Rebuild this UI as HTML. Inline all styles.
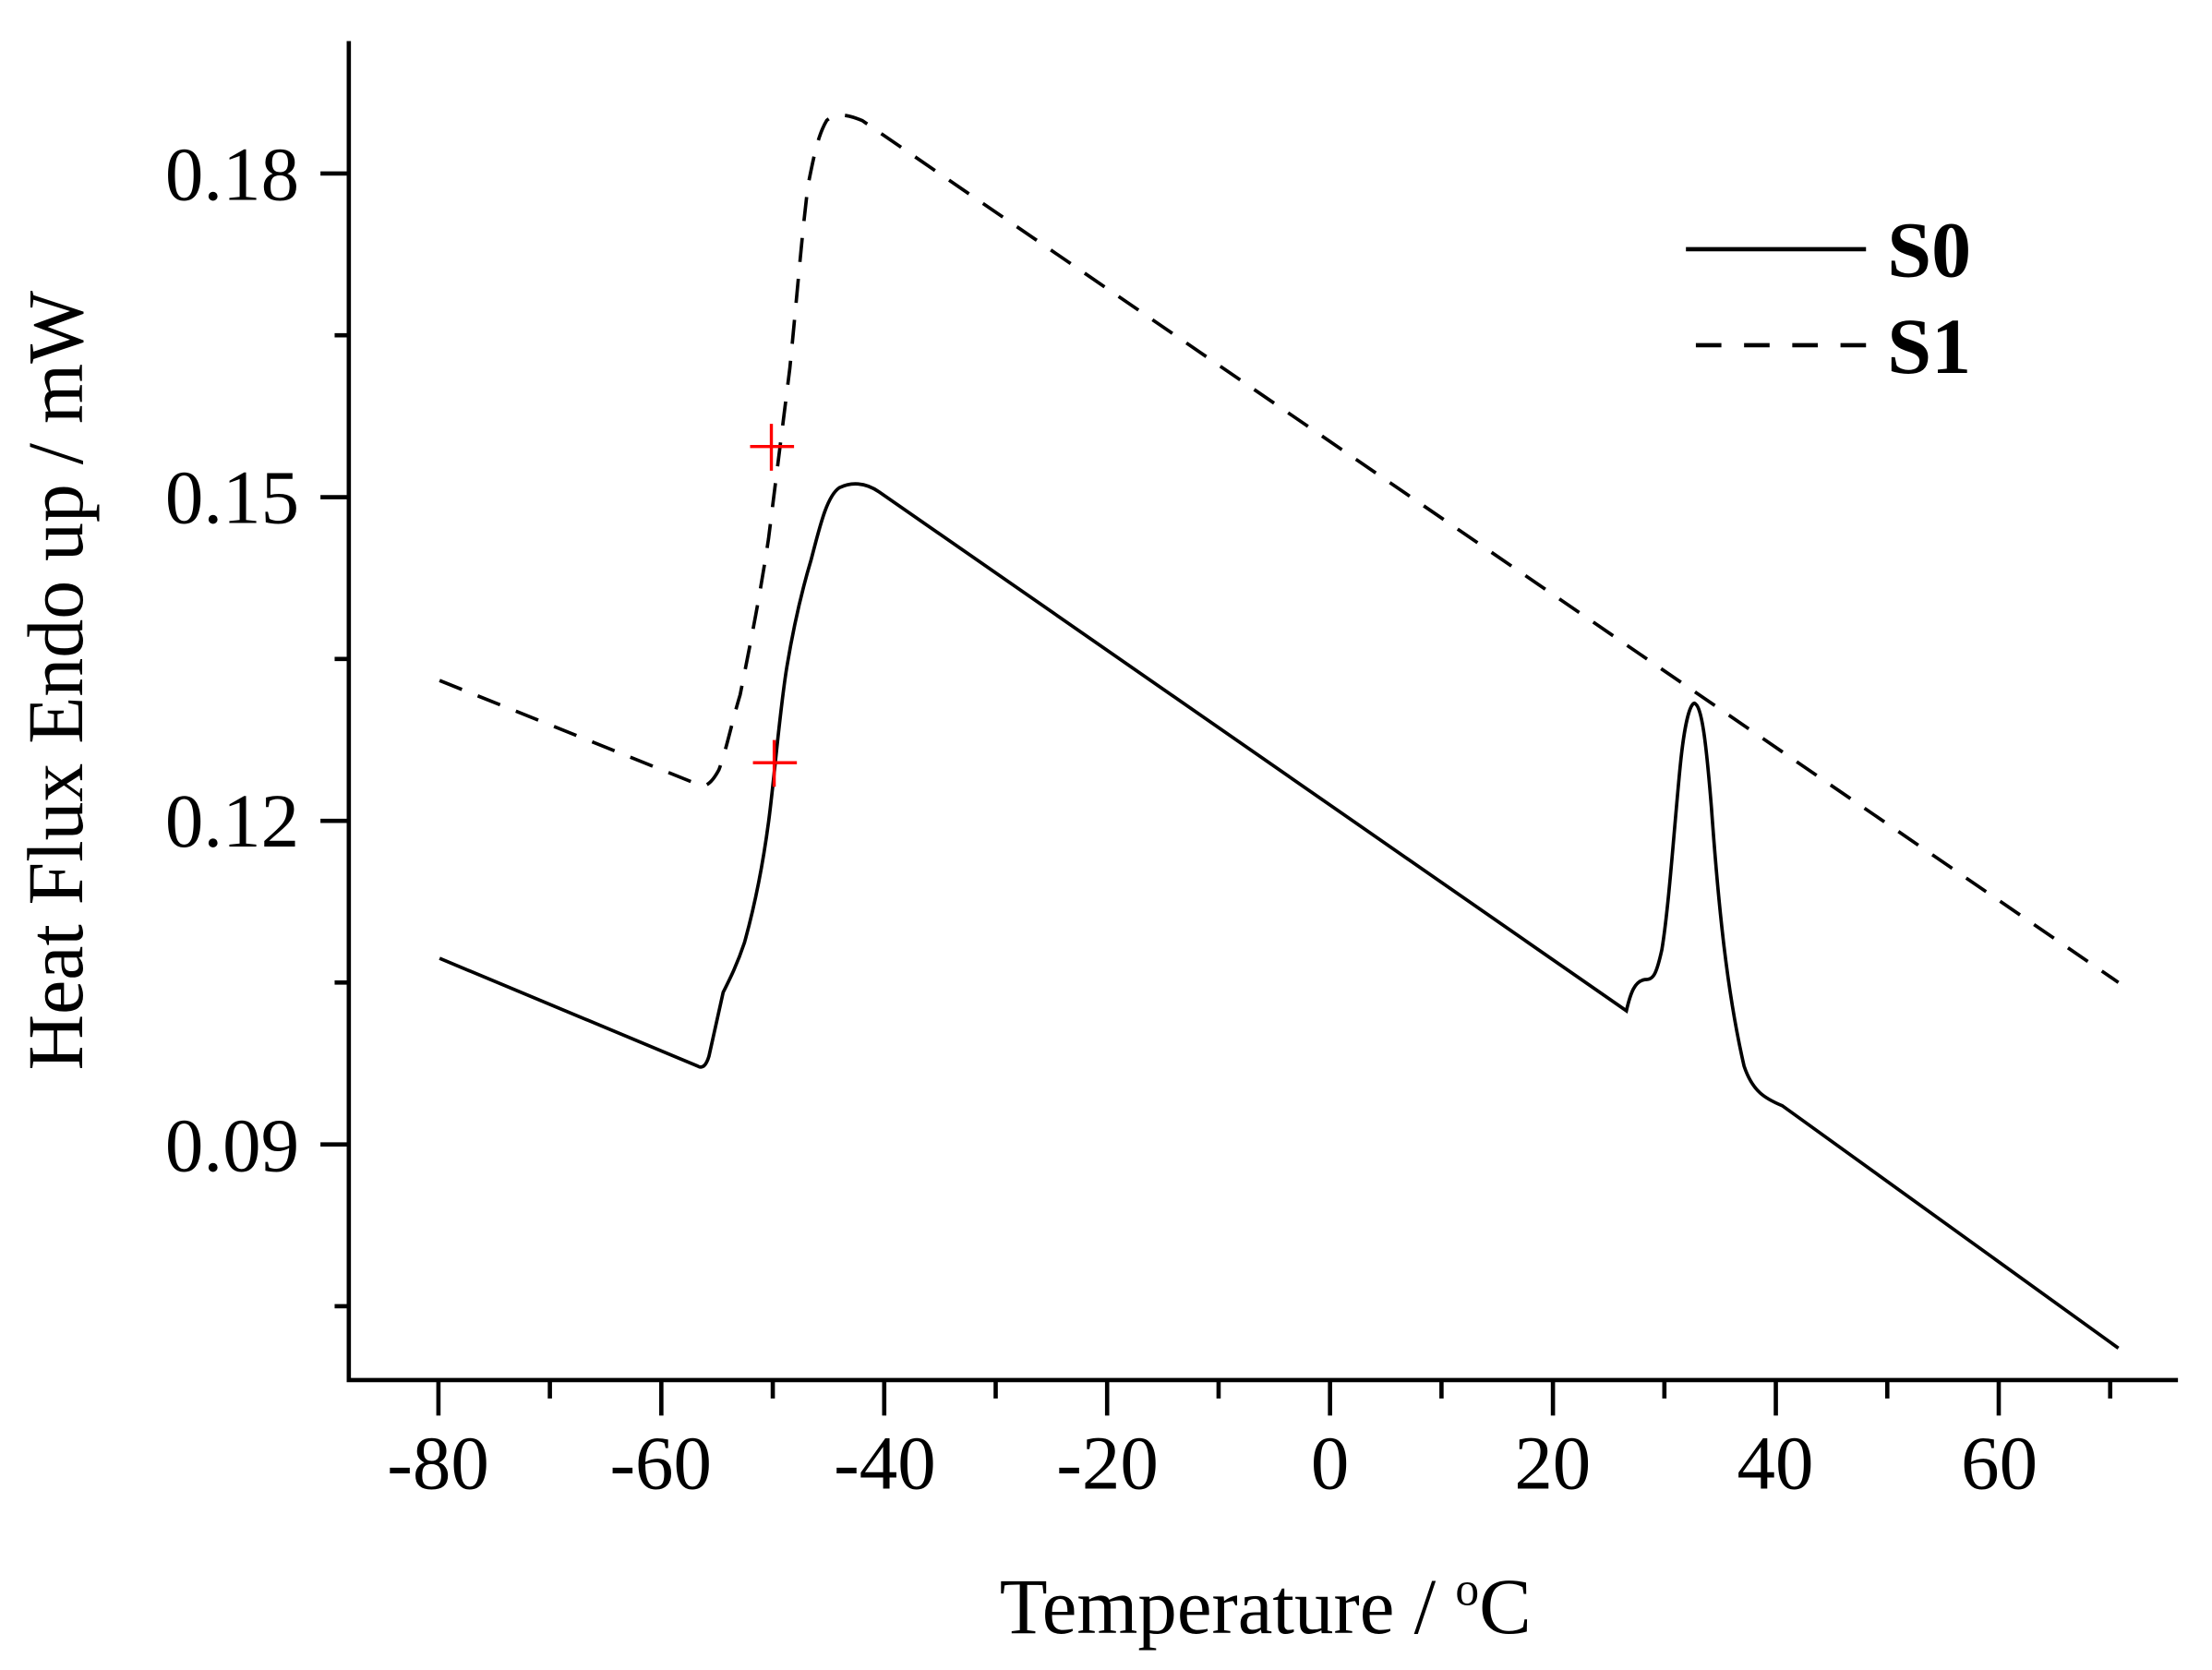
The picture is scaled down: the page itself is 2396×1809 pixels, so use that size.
<!DOCTYPE html>
<html><head><meta charset="utf-8"><style>html,body{margin:0;padding:0;background:#fff}svg{display:block}</style></head>
<body>
<svg width="2396" height="1809" viewBox="0 0 1560 1178" preserveAspectRatio="none" xmlns="http://www.w3.org/2000/svg" font-family="Liberation Serif, serif">
<rect width="1560" height="1178" fill="#fff"/>
<g stroke="#000" stroke-width="3" fill="none">
<path d="M246,29 V973.5 H1536"/>
<path d="M246,122.4 h-20 M246,350.7 h-20 M246,579 h-20 M246,807.3 h-20"/>
<path d="M246,236.5 h-10 M246,464.8 h-10 M246,693.1 h-10 M246,921.4 h-10"/>
<path d="M309.2,973.5 v25 M466.4,973.5 v25 M623.6,973.5 v25 M780.8,973.5 v25 M938,973.5 v25 M1095.2,973.5 v25 M1252.4,973.5 v25 M1409.6,973.5 v25"/>
<path d="M387.8,973.5 v13 M545,973.5 v13 M702.2,973.5 v13 M859.4,973.5 v13 M1016.6,973.5 v13 M1173.8,973.5 v13 M1331,973.5 v13 M1488.2,973.5 v13"/>
</g>
<g font-size="54" text-anchor="end">
<text x="211" y="141">0.18</text>
<text x="211" y="369">0.15</text>
<text x="211" y="597">0.12</text>
<text x="211" y="826">0.09</text>
</g>
<g font-size="54" text-anchor="middle">
<text x="309" y="1050">-80</text>
<text x="466" y="1050">-60</text>
<text x="624" y="1050">-40</text>
<text x="781" y="1050">-20</text>
<text x="938" y="1050">0</text>
<text x="1095" y="1050">20</text>
<text x="1252" y="1050">40</text>
<text x="1410" y="1050">60</text>
</g>
<text x="705" y="1152" font-size="56" textLength="375" lengthAdjust="spacingAndGlyphs">Temperature / <tspan font-size="34" dy="-20">o</tspan><tspan dy="20">C</tspan></text>
<text transform="translate(58,480) rotate(-90)" font-size="56" text-anchor="middle" textLength="550" lengthAdjust="spacingAndGlyphs">Heat Flux Endo up / mW</text>
<g fill="none" stroke="#000" stroke-width="2.4">
<path d="M310,676 L492,752 Q497,755 500,745 L510,700 C515,690 520,680 525,665 C532,640 538,610 542,580 C546,550 550,500 555,470 C560,440 566,415 572,395 C578,372 583,350 592,344 C600,340 610,340 620,347 L1147,713 C1150,700 1153,692 1160,691 C1166,691 1168,688 1172,670 C1177,640 1181,580 1185,540 C1188,510 1192,496 1195,496 C1200,498 1203,520 1207,570 C1212,640 1218,700 1230,752 C1236,770 1245,775 1257,780 L1494,951"/>
<path stroke-dasharray="17,12" d="M310,480 L494,554 Q500,556 507,543 C512,530 516,510 522,490 C530,450 536,420 542,380 C547,340 552,300 557,260 C562,210 566,160 570,130 C574,110 577,95 583,85 C590,79 598,81 608,85 L1494,693"/>
</g>
<g stroke="#f00" stroke-width="2.2">
<path d="M529,315 h31 M544,299 v33"/>
<path d="M531,538 h31 M546,522 v33"/>
</g>
<g stroke="#000" stroke-width="3">
<path d="M1189,175.8 H1316"/>
<path d="M1196,243.5 H1316" stroke-dasharray="18,16"/>
</g>
<g font-size="56" font-weight="bold">
<text x="1331" y="195">S0</text>
<text x="1331" y="263">S1</text>
</g>
</svg>
</body></html>
